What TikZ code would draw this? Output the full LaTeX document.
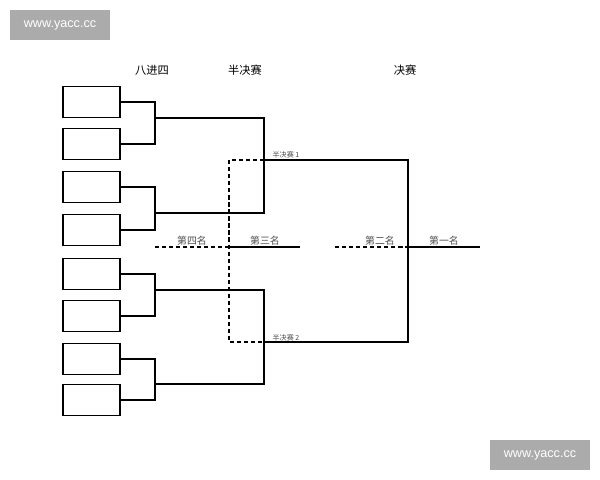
\documentclass[tikz,border=0pt]{standalone}
\usepackage{fontspec}
\newfontfamily\cjk{Noto Sans CJK SC}
\newfontfamily\wm{Liberation Sans}
\begin{document}
\begin{tikzpicture}[x=0.025cm,y=-0.025cm,
  ln/.style={line width=1.1pt},
  dl/.style={line width=0.9pt,dashed,dash pattern=on 3pt off 2pt},
  bx/.style={draw,line width=1.1pt,minimum width=57*0.025cm,minimum height=31*0.025cm,inner sep=0},
  lb/.style={font=\cjk\fontsize{7}{8}\selectfont,text=black!70},
  hd/.style={font=\cjk\fontsize{8}{9}\selectfont},
  sm/.style={font=\cjk\fontsize{5}{6}\selectfont,text=black!70},
  wmk/.style={fill=black!33,text=white,font=\wm\fontsize{9}{10}\selectfont,minimum width=100*0.025cm,minimum height=30*0.025cm}]
\useasboundingbox (0,0) rectangle (600,480);
\node[wmk] (w1) at (60,25) {www.yacc.cc};
\node[wmk] (w2) at (540,455) {www.yacc.cc};
\node[hd] (h1) at (152,70) {八进四};
\node[hd] (h2) at (245,70) {半决赛};
\node[hd] (h3) at (405,70) {决赛};
\foreach \i/\y in {1/102,2/144,3/187,4/230,5/274,6/316,7/359,8/400}
  \node[bx] (b\i) at (91.5,\y) {};
\draw[ln] (b1.east) -| (155,144) -- (b2.east);
\draw[ln] (b3.east) -| (155,230) -- (b4.east);
\draw[ln] (b5.east) -| (155,316) -- (b6.east);
\draw[ln] (b7.east) -| (155,400) -- (b8.east);
\coordinate (s1) at (264,160);
\coordinate (s2) at (264,342);
\coordinate (f1) at (408,160);
\coordinate (f2) at (408,342);
\coordinate (fm) at (408,247);
\draw[ln] (155,118) -| (s1);
\draw[ln] (155,213) -| (s1);
\draw[ln] (155,290) -| (s2);
\draw[ln] (155,384) -| (s2);
\draw[ln] (s1) -- (f1) -- (f2) -- (s2);
\coordinate (first) at (480,247);
\draw[ln] (fm) -- (first);
\coordinate (second) at (335,247);
\draw[dl] (second) -- (fm);
\coordinate (d1) at (229,160);
\coordinate (d2) at (229,342);
\coordinate (dm) at (229,247);
\draw[dl] (s1) -- (d1) -- (d2) -- (s2);
\coordinate (third) at (300,247);
\draw[ln] (dm) -- (third);
\coordinate (fourth) at (155,247);
\draw[dl] (fourth) -- (dm);
\node[lb] (l4) at (192,241) {第四名};
\node[lb] (l3) at (265,241) {第三名};
\node[lb] (l2) at (380,241) {第二名};
\node[lb] (l1) at (444,241) {第一名};
\node[sm] (t1) at (286,155) {半决赛 1};
\node[sm] (t2) at (286,338) {半决赛 2};
\end{tikzpicture}
\end{document}
